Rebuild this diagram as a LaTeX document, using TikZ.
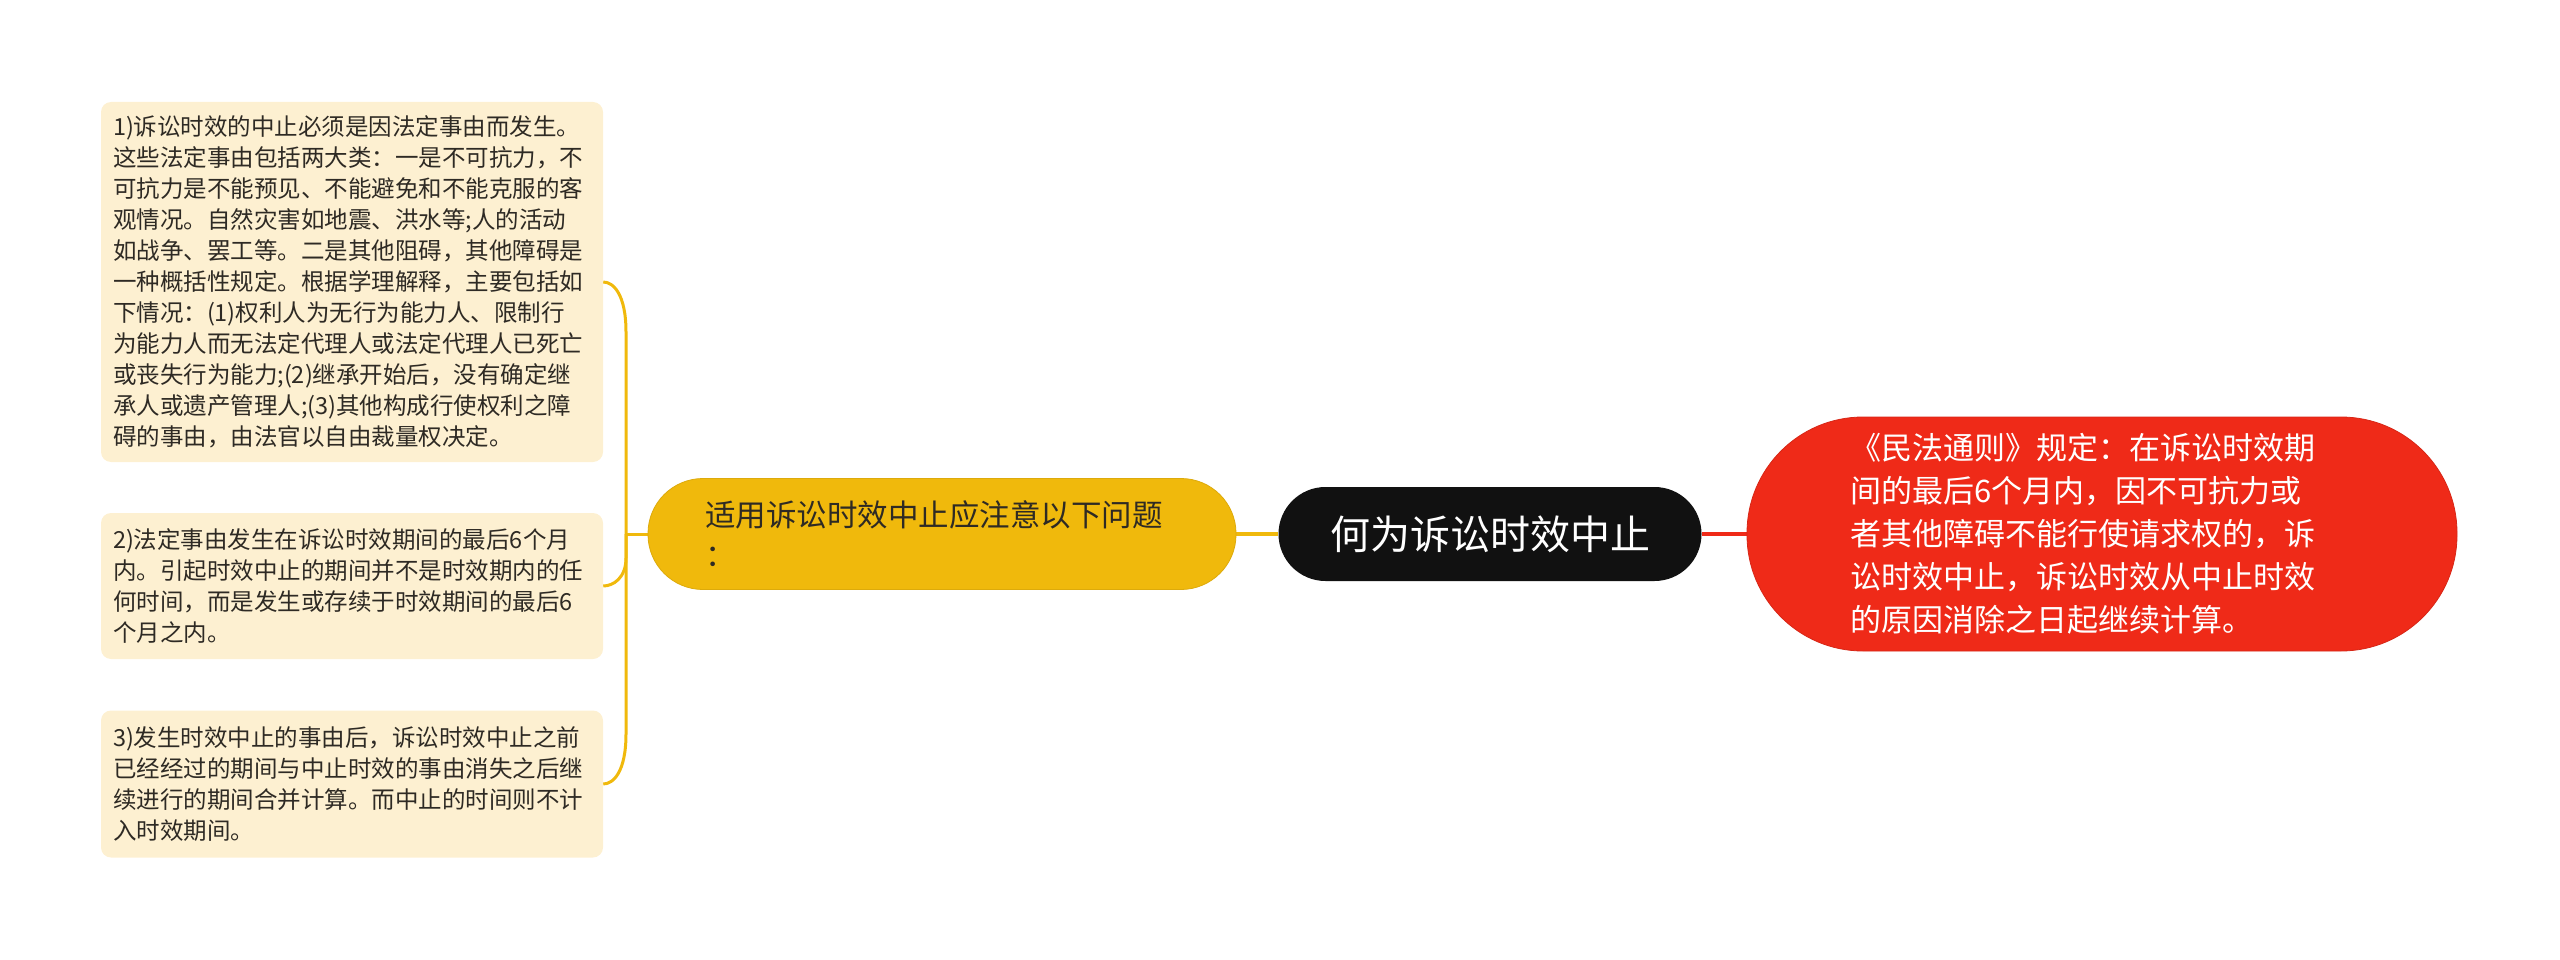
\documentclass[tikz,border=0pt]{standalone}
\usepackage{fontspec}
\newfontfamily\cjk{Noto Sans CJK SC}
\usetikzlibrary{calc}
\pgfdeclarelayer{bg}
\pgfsetlayers{bg,main}
\definecolor{rootbg}{HTML}{111111}
\definecolor{topicbg}{HTML}{F0B90C}
\definecolor{notebg}{HTML}{EF2A18}
\definecolor{leafbg}{HTML}{FDF0D1}
\definecolor{leaftext}{HTML}{2E2A24}
\tikzset{
    every node/.style={inner sep=0pt, font=\cjk}
}
\tikzset{
    root/.style={fill=rootbg, text=white, rounded corners=47pt, minimum width=423pt, minimum height=94pt, font=\cjk\fontsize{40}{48}\selectfont},
    topic/.style={fill=topicbg, draw=topicbg!92!black, line width=.8pt, rounded corners=55pt, minimum width=588pt, minimum height=111pt, text width=474pt, align=left, text=leaftext, font=\cjk\fontsize{30.5}{40}\selectfont},
    note/.style={fill=notebg, draw=notebg!90!black, line width=.8pt, rounded corners=116pt, minimum width=710pt, minimum height=234pt, text width=504pt, align=left, text=white, font=\cjk\fontsize{31}{43}\selectfont},
    leaf/.style={fill=leafbg, rounded corners=10pt, minimum width=502pt, text width=478pt, align=left, text=leaftext, font=\cjk\fontsize{23.5}{31}\selectfont},
    trunk/.style={draw=topicbg, line width=4pt},
    redline/.style={draw=notebg, line width=3.5pt},
    twig/.style={draw=topicbg, line width=3pt}
}

\begin{document}
\begin{tikzpicture}[x=1pt, y=-1pt]
    \useasboundingbox (0,0) rectangle (2560,960);

    \node (root) [root] at (1490, 534) {何为诉讼时效中止};
    \node (sub) [topic] at (942, 534) {适用诉讼时效中止应注意以下问题\\：};
    \node (law) [note] at (2102, 534) {《民法通则》规定：在诉讼时效期\\间的最后6个月内，因不可抗力或\\者其他障碍不能行使请求权的，诉\\讼时效中止，诉讼时效从中止时效\\的原因消除之日起继续计算。};

    \node (r1) [leaf, minimum height=360pt] at (352, 282) {1)诉讼时效的中止必须是因法定事由而发生。\\这些法定事由包括两大类：一是不可抗力，不\\可抗力是不能预见、不能避免和不能克服的客\\观情况。自然灾害如地震、洪水等;人的活动\\如战争、罢工等。二是其他阻碍，其他障碍是\\一种概括性规定。根据学理解释，主要包括如\\下情况：(1)权利人为无行为能力人、限制行\\为能力人而无法定代理人或法定代理人已死亡\\或丧失行为能力;(2)继承开始后，没有确定继\\承人或遗产管理人;(3)其他构成行使权利之障\\碍的事由，由法官以自由裁量权决定。};
    \node (r2) [leaf, minimum height=146pt] at (352, 586) {2)法定事由发生在诉讼时效期间的最后6个月\\内。引起时效中止的期间并不是时效期内的任\\何时间，而是发生或存续于时效期间的最后6\\个月之内。};
    \node (r3) [leaf, minimum height=147pt] at (352, 784) {3)发生时效中止的事由后，诉讼时效中止之前\\已经经过的期间与中止时效的事由消失之后继\\续进行的期间合并计算。而中止的时间则不计\\入时效期间。};

    \coordinate (hub) at (626, 534);

    \begin{pgfonlayer}{bg}
        \draw[trunk] (root.west) -- (sub.east);
        \draw[redline] (root.east) -- (law.west);
        \draw[twig] (sub.west) -- (hub);
        \draw[twig] (hub) -- ($(hub |- r1.east)+(0,50)$) .. controls ($(hub |- r1.east)+(0,12)$) and ($(r1.east)+(10,0)$) .. (r1.east);
        \draw[twig] (hub) -- ($(hub |- r2.east)+(0,-28)$) .. controls ($(hub |- r2.east)+(0,-8)$) and ($(r2.east)+(10,0)$) .. (r2.east);
        \draw[twig] (hub) -- ($(hub |- r3.east)+(0,-50)$) .. controls ($(hub |- r3.east)+(0,-12)$) and ($(r3.east)+(10,0)$) .. (r3.east);
    \end{pgfonlayer}
\end{tikzpicture}
\end{document}
